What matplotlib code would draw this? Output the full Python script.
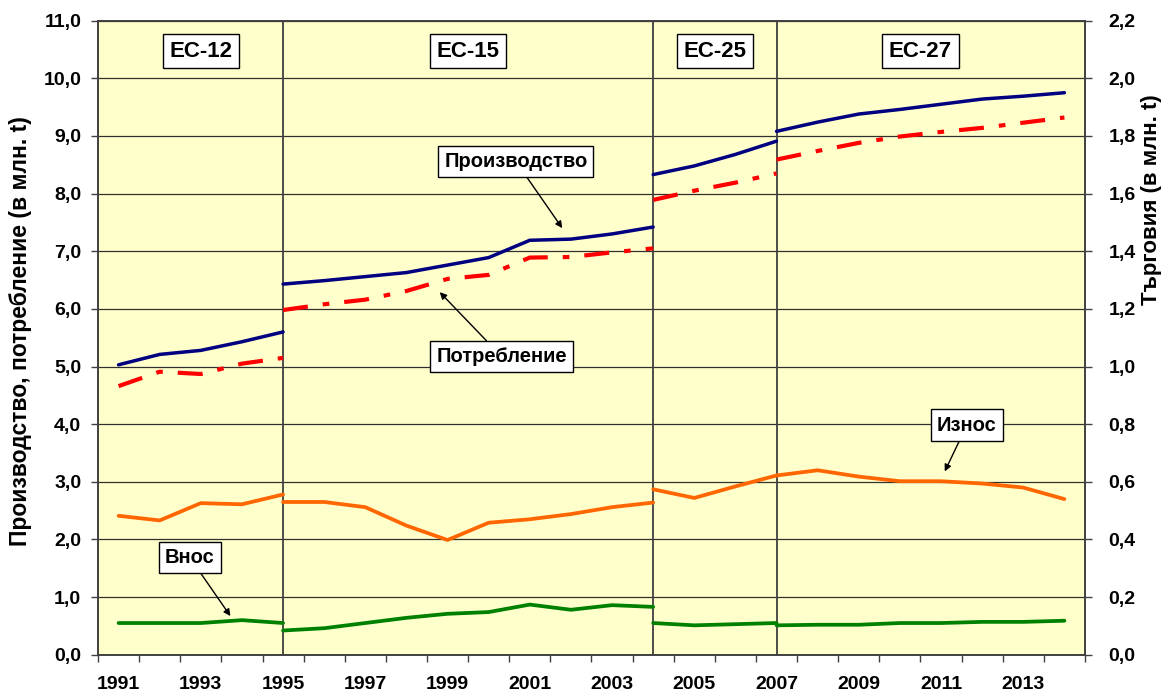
import numpy as np
import matplotlib.pyplot as plt
from matplotlib.ticker import FuncFormatter

plt.rcParams['font.family'] = ['Liberation Sans', 'DejaVu Sans']
plt.rcParams['font.weight'] = 'bold'

# периоди на ЕС - граничната година се повтаря в двата съседни периода
periods = ["ЕС-12", "ЕС-15", "ЕС-25", "ЕС-27"]
period_years = [(1991, 1995), (1995, 2004), (2004, 2007), (2007, 2014)]

# лява ос, млн. t
production = [
    [5.03, 5.21, 5.28, 5.43, 5.60],
    [6.43, 6.49, 6.56, 6.63, 6.76, 6.89, 7.19, 7.21, 7.30, 7.42],
    [8.33, 8.48, 8.68, 8.91],
    [9.08, 9.24, 9.38, 9.46, 9.55, 9.64, 9.69, 9.75],
]
consumption = [
    [4.66, 4.91, 4.87, 5.05, 5.15],
    [5.98, 6.08, 6.16, 6.31, 6.52, 6.59, 6.89, 6.90, 6.98, 7.05],
    [7.89, 8.05, 8.19, 8.35],
    [8.59, 8.74, 8.88, 8.99, 9.07, 9.14, 9.23, 9.32],
]
# дясна ос, млн. t
exports = [
    [0.482, 0.466, 0.526, 0.522, 0.556],
    [0.530, 0.530, 0.512, 0.448, 0.398, 0.458, 0.470, 0.488, 0.512, 0.528],
    [0.574, 0.544, 0.584, 0.622],
    [0.622, 0.640, 0.618, 0.602, 0.602, 0.594, 0.580, 0.540],
]
imports = [
    [0.110, 0.110, 0.110, 0.120, 0.110],
    [0.084, 0.092, 0.110, 0.128, 0.142, 0.148, 0.174, 0.156, 0.172, 0.166],
    [0.110, 0.102, 0.106, 0.110],
    [0.102, 0.104, 0.104, 0.110, 0.110, 0.114, 0.114, 0.118],
]

year_labels = list(range(1991, 2014, 2))

fig = plt.figure(figsize=(11.64, 6.96), dpi=100)
ax = fig.add_axes([0.0842, 0.0593, 0.8479, 0.9110])
ax2 = ax.twinx()
ax.set_facecolor('#FFFFCC')

for i, (y0, y1) in enumerate(period_years):
    yrs = np.arange(y0, y1 + 1)
    ax.plot(yrs, production[i], color='#000080', lw=2.5, zorder=4, solid_capstyle='round')
    ax.plot(yrs, consumption[i], color='#FF0000', lw=3.0, zorder=4,
            dashes=(6, 3.6, 1.6, 3.6), dash_capstyle='butt')
    ax2.plot(yrs, exports[i], color='#FF6600', lw=2.7, zorder=4, solid_capstyle='round')
    ax2.plot(yrs, imports[i], color='#008000', lw=2.7, zorder=4, solid_capstyle='round')

for y0, _ in period_years[1:]:
    ax.axvline(y0, color='#404040', lw=1.3, zorder=3)

ax.set_xlim(1990.5, 2014.5)
ax.set_ylim(0, 11)
ax2.set_ylim(0, 2.2)
ax.set_yticks(np.arange(0, 11.5, 1))
ax2.set_yticks(np.arange(0, 2.3, 0.2))

comma = FuncFormatter(lambda v, p: f"{v:.1f}".replace('.', ','))
ax.yaxis.set_major_formatter(comma)
ax2.yaxis.set_major_formatter(comma)

ax.set_xticks(np.arange(1990.5, 2015, 1), labels=[])
ax.set_xticks(year_labels, labels=[str(y) for y in year_labels], minor=True)
ax.tick_params(axis='x', which='major', length=5, width=1, color='#404040')
ax.tick_params(axis='x', which='minor', length=0, pad=15, labelsize=14)
ax.tick_params(axis='y', length=5, width=1, color='#404040', pad=7, labelsize=14)
ax2.tick_params(axis='y', length=5, width=1, color='#404040', pad=12, labelsize=14)

ax.yaxis.grid(True, color='#303030', lw=0.9)
ax.set_axisbelow(True)
for sp in list(ax.spines.values()) + list(ax2.spines.values()):
    sp.set_color('#404040')
    sp.set_linewidth(1.2)

ax.set_ylabel('Производство, потребление (в млн. t)', fontsize=16.5, fontweight='bold')
ax.yaxis.set_label_coords(-0.067, 0.51)
ax2.set_ylabel('Търговия (в млн. t)', fontsize=16, fontweight='bold', rotation=90)
ax2.yaxis.set_label_coords(1.057, 0.717)

box = dict(boxstyle='square,pad=0.3', fc='white', ec='black', lw=1)
for name, (y0, y1) in zip(periods, period_years):
    ax.text((y0 + y1) / 2, 10.47, name, ha='center', va='center', fontsize=16,
            fontweight='bold', bbox=box, zorder=6)

arrow = dict(arrowstyle='-|>', color='black', lw=1, mutation_scale=10, shrinkA=0, shrinkB=0)
ax.annotate('Производство', xy=(2001.79, 7.40), xytext=(2000.66, 8.56), ha='center', va='center',
            fontsize=14.5, fontweight='bold', bbox=box, arrowprops=arrow, zorder=6)
ax.annotate('Потребление', xy=(1998.81, 6.29), xytext=(2000.32, 5.17), ha='center', va='center',
            fontsize=14.5, fontweight='bold', bbox=box, arrowprops=arrow, zorder=6)
ax2.annotate('Внос', xy=(1993.72, 0.134), xytext=(1992.73, 0.338), ha='center', va='center',
             fontsize=14.5, fontweight='bold', bbox=box, arrowprops=arrow, zorder=6)
ax2.annotate('Износ', xy=(2011.09, 0.636), xytext=(2011.63, 0.797), ha='center', va='center',
             fontsize=14.5, fontweight='bold', bbox=box, arrowprops=arrow, zorder=6)

fig.savefig('out.png', dpi=100)
